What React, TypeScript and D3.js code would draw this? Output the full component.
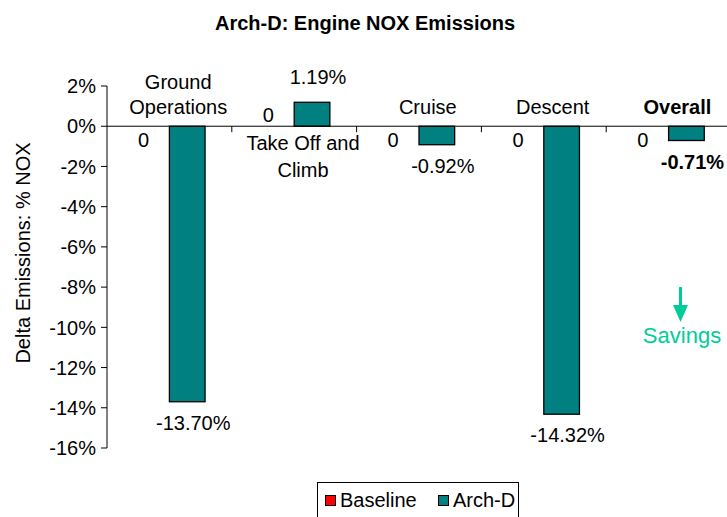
import React from 'react';
import * as d3 from 'd3';

const categories = ['Ground|Operations', 'Take Off and|Climb', 'Cruise', 'Descent', 'Overall'];
const baseline = [0, 0, 0, 0, 0];
const archD = [-13.7, 1.19, -0.92, -14.32, -0.71];
const yTicks = [2, 0, -2, -4, -6, -8, -10, -12, -14, -16];
const seriesNames = ['Baseline', 'Arch-D'];
const seriesColors = ['#FF0000', '#008080'];

const App = () => {
    const width = 727;
    const height = 517;
    const margin = { left: 107, top: 86, bottom: 448 };
    const font = 'Liberation Sans, Arial, sans-serif';
    const fs = 20;

    const y = d3.scaleLinear().domain([-16, 2]).range([margin.bottom, margin.top]);
    const x = d3.scaleBand<number>()
        .domain(d3.range(categories.length))
        .range([margin.left, margin.left + 124.8 * categories.length])
        .padding(0);
    const inner = d3.scaleBand<string>()
        .domain(seriesNames)
        .range([0, x.bandwidth()])
        .paddingInner(0)
        .paddingOuter(0.75);
    const bw = inner.bandwidth();
    const y0 = y(0);
    const last = categories.length - 1;

    return (
        <svg width={width} height={height} style={{ position: 'absolute', left: 0, top: 0 }} fontFamily={font}>
            <rect width={width} height={height} fill="#fff" />
            <text x={365} y={30} textAnchor="middle" fontSize={fs} fontWeight="bold">
                Arch-D: Engine NOX Emissions
            </text>
            <text transform={`translate(30,253) rotate(-90)`} textAnchor="middle" fontSize={fs}>
                Delta Emissions: % NOX
            </text>

            {/* y axis */}
            <line x1={margin.left} x2={margin.left} y1={y(2)} y2={y(-16)} stroke="#000" />
            {yTicks.map(t => (
                <g key={t}>
                    <line x1={margin.left - 6} x2={margin.left} y1={y(t)} y2={y(t)} stroke="#000" />
                    <text x={96} y={y(t)} dy="0.36em" textAnchor="end" fontSize={fs}>
                        {t}%
                    </text>
                </g>
            ))}

            {/* bars */}
            {archD.map((v, i) => {
                const bx = x(i)! + inner('Arch-D')!;
                const top = Math.min(y(v), y0);
                return (
                    <rect key={i} x={bx} y={top} width={bw} height={Math.abs(y(v) - y0)}
                        fill={seriesColors[1]} stroke="#000" strokeWidth={1.3} />
                );
            })}

            {/* zero axis and category ticks */}
            <line x1={margin.left} x2={width} y1={y0} y2={y0} stroke="#000" />
            {d3.range(1, categories.length).map(i => (
                <line key={i} x1={x(i)} x2={x(i)} y1={y0} y2={y0 + 6} stroke="#000" />
            ))}

            {/* labels */}
            {categories.map((c, i) => {
                const v = archD[i];
                const bold = i === last ? 'bold' : 'normal';
                const cx = x(i)! + inner('Arch-D')! + bw / 2;
                const lines = c.split('|');
                const bx = x(i)! + inner('Baseline')! + bw / 2 - 8;
                const catY = v > 0
                    ? lines.map((_, k) => y0 + 24 + k * 27)
                    : lines.map((_, k) => y0 - 12 - (lines.length - 1 - k) * 25);
                const valY = v > 0 ? y(v) - 18 : y(v) + 28;
                return (
                    <g key={i} fontSize={fs}>
                        {lines.map((l, k) => (
                            <text key={k} x={cx - 9} y={catY[k]} textAnchor="middle" fontWeight={bold}>{l}</text>
                        ))}
                        <text x={bx} y={v > 0 ? y0 - 4 : y0 + 21} textAnchor="middle">{baseline[i]}</text>
                        <text x={cx + 6} y={valY} textAnchor="middle" fontWeight={bold}>
                            {v.toFixed(2)}%
                        </text>
                    </g>
                );
            })}

            {/* savings annotation */}
            <g fill="#00CC99" stroke="#00CC99">
                <line x1={680.5} x2={680.5} y1={287} y2={307} strokeWidth={3} />
                <path d="M673,305 L688,305 L680.5,322 Z" stroke="none" />
                <text x={682} y={343} textAnchor="middle" fontSize={22} stroke="none">Savings</text>
            </g>

            {/* legend */}
            <rect x={317.5} y={482.5} width={201} height={40} fill="#fff" stroke="#000" />
            {seriesNames.map((s, i) => {
                const lx = i === 0 ? 325 : 438;
                return (
                    <g key={s}>
                        <rect x={lx + 0.5} y={495.5} width={10} height={10} fill={seriesColors[i]} stroke="#000" />
                        <text x={lx + 15} y={507} fontSize={fs}>{s}</text>
                    </g>
                );
            })}
        </svg>
    );
};

export default App;
